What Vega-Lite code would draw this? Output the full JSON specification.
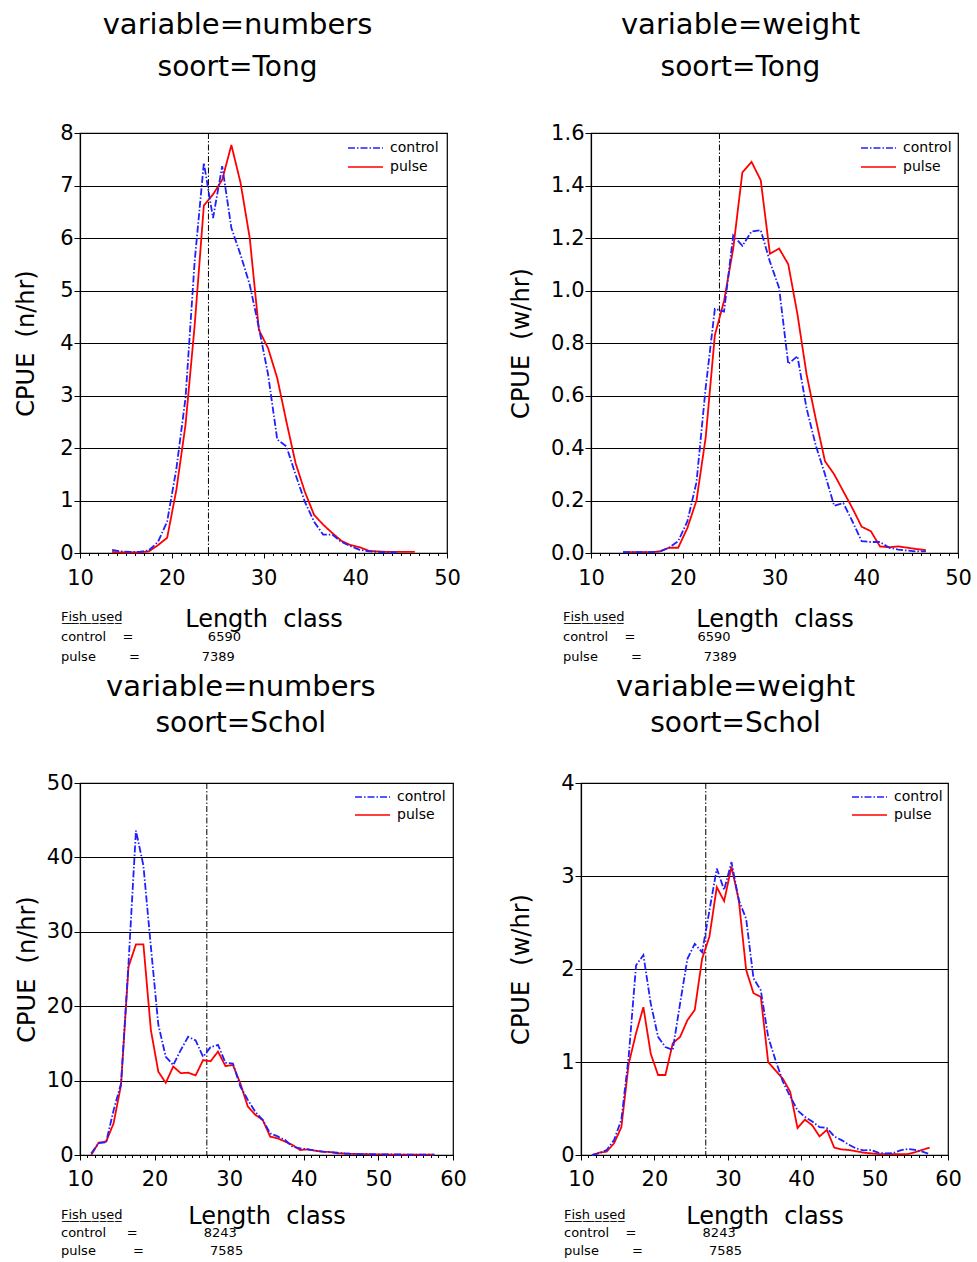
{
  "$schema": "https://vega.github.io/schema/vega-lite/v6.json",
  "background": "white",
  "padding": {"left": 14, "top": 11, "right": 0, "bottom": 0},
  "config": {
    "font": "DejaVu Sans",
    "view": {"stroke": "black", "strokeWidth": 1.2},
    "title": {"font": "DejaVu Sans", "fontSize": 29, "fontWeight": "normal", "color": "black", "subtitleFont": "DejaVu Sans", "subtitleFontSize": 28, "subtitleColor": "black", "offset": 39, "subtitlePadding": 14, "anchor": "middle", "frame": "bounds"},
    "axis": {"domainColor": "black", "domainWidth": 1.2, "tickColor": "black", "labelColor": "black", "titleColor": "black", "labelFont": "DejaVu Sans", "titleFont": "DejaVu Sans", "labelFontSize": 21, "titleFontSize": 24, "titleFontWeight": "normal", "gridColor": "black", "gridOpacity": 1, "gridWidth": 1},
    "axisX": {"grid": false, "tickSize": 5, "labelPadding": 9, "titlePadding": 19, "labelFlush": false},
    "axisY": {"grid": true, "tickSize": 6, "labelPadding": 1, "titlePadding": 15},
    "legend": {"title": null, "labelFont": "DejaVu Sans", "labelFontSize": 14, "labelColor": "black", "symbolType": "M-1.75,0H1.75", "symbolSize": 400, "symbolStrokeWidth": 1.6, "rowPadding": 1, "labelOffset": 13.5, "padding": 0}
  },
  "datasets": {
    "tl": [
      {"length":13.5,"series":"pulse","cpue":0.02},{"length":14.5,"series":"pulse","cpue":0.01},{"length":15.5,"series":"pulse","cpue":0.01},{"length":16.5,"series":"pulse","cpue":0.01},{"length":17.5,"series":"pulse","cpue":0.03},{"length":18.5,"series":"pulse","cpue":0.15},{"length":19.5,"series":"pulse","cpue":0.29},{"length":20.5,"series":"pulse","cpue":1.2},{"length":21.5,"series":"pulse","cpue":2.44},{"length":22.5,"series":"pulse","cpue":4.34},{"length":23.5,"series":"pulse","cpue":6.62},{"length":24.5,"series":"pulse","cpue":6.83},{"length":25.5,"series":"pulse","cpue":7.11},{"length":26.5,"series":"pulse","cpue":7.77},{"length":27.5,"series":"pulse","cpue":7.05},{"length":28.5,"series":"pulse","cpue":6.0},{"length":29.5,"series":"pulse","cpue":4.25},{"length":30.5,"series":"pulse","cpue":3.9},{"length":31.5,"series":"pulse","cpue":3.33},{"length":32.5,"series":"pulse","cpue":2.5},{"length":33.5,"series":"pulse","cpue":1.71},{"length":34.5,"series":"pulse","cpue":1.17},{"length":35.5,"series":"pulse","cpue":0.73},{"length":36.5,"series":"pulse","cpue":0.54},{"length":37.5,"series":"pulse","cpue":0.38},{"length":38.5,"series":"pulse","cpue":0.23},{"length":39.5,"series":"pulse","cpue":0.15},{"length":40.5,"series":"pulse","cpue":0.11},{"length":41.5,"series":"pulse","cpue":0.04},{"length":42.5,"series":"pulse","cpue":0.03},{"length":43.5,"series":"pulse","cpue":0.02},{"length":44.5,"series":"pulse","cpue":0.02},{"length":45.5,"series":"pulse","cpue":0.02},{"length":46.5,"series":"pulse","cpue":0.02},
      {"length":13.5,"series":"control","cpue":0.06},{"length":14.5,"series":"control","cpue":0.03},{"length":15.5,"series":"control","cpue":0.02},{"length":16.5,"series":"control","cpue":0.02},{"length":17.5,"series":"control","cpue":0.05},{"length":18.5,"series":"control","cpue":0.21},{"length":19.5,"series":"control","cpue":0.6},{"length":20.5,"series":"control","cpue":1.6},{"length":21.5,"series":"control","cpue":2.95},{"length":22.5,"series":"control","cpue":5.56},{"length":23.5,"series":"control","cpue":7.43},{"length":24.5,"series":"control","cpue":6.38},{"length":25.5,"series":"control","cpue":7.37},{"length":26.5,"series":"control","cpue":6.19},{"length":27.5,"series":"control","cpue":5.68},{"length":28.5,"series":"control","cpue":5.11},{"length":29.5,"series":"control","cpue":4.29},{"length":30.5,"series":"control","cpue":3.4},{"length":31.5,"series":"control","cpue":2.16},{"length":32.5,"series":"control","cpue":2.03},{"length":33.5,"series":"control","cpue":1.49},{"length":34.5,"series":"control","cpue":0.98},{"length":35.5,"series":"control","cpue":0.6},{"length":36.5,"series":"control","cpue":0.35},{"length":37.5,"series":"control","cpue":0.35},{"length":38.5,"series":"control","cpue":0.21},{"length":39.5,"series":"control","cpue":0.13},{"length":40.5,"series":"control","cpue":0.06},{"length":41.5,"series":"control","cpue":0.03},{"length":42.5,"series":"control","cpue":0.02},{"length":43.5,"series":"control","cpue":0.01},{"length":44.5,"series":"control","cpue":0.01}
    ],
    "tr": [
      {"length":13.5,"series":"pulse","cpue":0.003},{"length":14.5,"series":"pulse","cpue":0.003},{"length":15.5,"series":"pulse","cpue":0.003},{"length":16.5,"series":"pulse","cpue":0.003},{"length":17.5,"series":"pulse","cpue":0.006},{"length":18.5,"series":"pulse","cpue":0.02},{"length":19.5,"series":"pulse","cpue":0.02},{"length":20.5,"series":"pulse","cpue":0.095},{"length":21.5,"series":"pulse","cpue":0.2},{"length":22.5,"series":"pulse","cpue":0.44},{"length":23.5,"series":"pulse","cpue":0.83},{"length":24.5,"series":"pulse","cpue":0.96},{"length":25.5,"series":"pulse","cpue":1.16},{"length":26.5,"series":"pulse","cpue":1.45},{"length":27.5,"series":"pulse","cpue":1.49},{"length":28.5,"series":"pulse","cpue":1.42},{"length":29.5,"series":"pulse","cpue":1.14},{"length":30.5,"series":"pulse","cpue":1.16},{"length":31.5,"series":"pulse","cpue":1.1},{"length":32.5,"series":"pulse","cpue":0.91},{"length":33.5,"series":"pulse","cpue":0.68},{"length":34.5,"series":"pulse","cpue":0.51},{"length":35.5,"series":"pulse","cpue":0.35},{"length":36.5,"series":"pulse","cpue":0.3},{"length":37.5,"series":"pulse","cpue":0.235},{"length":38.5,"series":"pulse","cpue":0.17},{"length":39.5,"series":"pulse","cpue":0.1},{"length":40.5,"series":"pulse","cpue":0.083},{"length":41.5,"series":"pulse","cpue":0.025},{"length":42.5,"series":"pulse","cpue":0.022},{"length":43.5,"series":"pulse","cpue":0.025},{"length":44.5,"series":"pulse","cpue":0.02},{"length":45.5,"series":"pulse","cpue":0.015},{"length":46.5,"series":"pulse","cpue":0.011},
      {"length":13.5,"series":"control","cpue":0.003},{"length":14.5,"series":"control","cpue":0.003},{"length":15.5,"series":"control","cpue":0.003},{"length":16.5,"series":"control","cpue":0.003},{"length":17.5,"series":"control","cpue":0.006},{"length":18.5,"series":"control","cpue":0.02},{"length":19.5,"series":"control","cpue":0.045},{"length":20.5,"series":"control","cpue":0.12},{"length":21.5,"series":"control","cpue":0.27},{"length":22.5,"series":"control","cpue":0.63},{"length":23.5,"series":"control","cpue":0.93},{"length":24.5,"series":"control","cpue":0.92},{"length":25.5,"series":"control","cpue":1.21},{"length":26.5,"series":"control","cpue":1.17},{"length":27.5,"series":"control","cpue":1.225},{"length":28.5,"series":"control","cpue":1.23},{"length":29.5,"series":"control","cpue":1.11},{"length":30.5,"series":"control","cpue":1.01},{"length":31.5,"series":"control","cpue":0.72},{"length":32.5,"series":"control","cpue":0.75},{"length":33.5,"series":"control","cpue":0.55},{"length":34.5,"series":"control","cpue":0.41},{"length":35.5,"series":"control","cpue":0.3},{"length":36.5,"series":"control","cpue":0.18},{"length":37.5,"series":"control","cpue":0.19},{"length":38.5,"series":"control","cpue":0.12},{"length":39.5,"series":"control","cpue":0.045},{"length":40.5,"series":"control","cpue":0.042},{"length":41.5,"series":"control","cpue":0.042},{"length":42.5,"series":"control","cpue":0.02},{"length":43.5,"series":"control","cpue":0.013},{"length":44.5,"series":"control","cpue":0.009},{"length":45.5,"series":"control","cpue":0.006},{"length":46.5,"series":"control","cpue":0.006}
    ],
    "bl": [
      {"length":11.5,"series":"pulse","cpue":0},{"length":12.5,"series":"pulse","cpue":1.66},{"length":13.5,"series":"pulse","cpue":1.8},{"length":14.5,"series":"pulse","cpue":4.25},{"length":15.5,"series":"pulse","cpue":9.4},{"length":16.5,"series":"pulse","cpue":25.3},{"length":17.5,"series":"pulse","cpue":28.3},{"length":18.5,"series":"pulse","cpue":28.3},{"length":19.5,"series":"pulse","cpue":16.8},{"length":20.5,"series":"pulse","cpue":11.2},{"length":21.5,"series":"pulse","cpue":9.7},{"length":22.5,"series":"pulse","cpue":11.9},{"length":23.5,"series":"pulse","cpue":11.0},{"length":24.5,"series":"pulse","cpue":11.06},{"length":25.5,"series":"pulse","cpue":10.7},{"length":26.5,"series":"pulse","cpue":12.76},{"length":27.5,"series":"pulse","cpue":12.6},{"length":28.5,"series":"pulse","cpue":13.9},{"length":29.5,"series":"pulse","cpue":11.95},{"length":30.5,"series":"pulse","cpue":12.1},{"length":31.5,"series":"pulse","cpue":9.6},{"length":32.5,"series":"pulse","cpue":6.5},{"length":33.5,"series":"pulse","cpue":5.4},{"length":34.5,"series":"pulse","cpue":4.7},{"length":35.5,"series":"pulse","cpue":2.46},{"length":36.5,"series":"pulse","cpue":2.24},{"length":37.5,"series":"pulse","cpue":1.8},{"length":38.5,"series":"pulse","cpue":1.34},{"length":39.5,"series":"pulse","cpue":0.67},{"length":40.5,"series":"pulse","cpue":0.76},{"length":41.5,"series":"pulse","cpue":0.58},{"length":42.5,"series":"pulse","cpue":0.45},{"length":43.5,"series":"pulse","cpue":0.4},{"length":44.5,"series":"pulse","cpue":0.22},{"length":45.5,"series":"pulse","cpue":0.2},{"length":46.5,"series":"pulse","cpue":0.15},{"length":47.5,"series":"pulse","cpue":0.12},{"length":48.5,"series":"pulse","cpue":0.1},{"length":49.5,"series":"pulse","cpue":0.08},{"length":50.5,"series":"pulse","cpue":0.08},{"length":51.5,"series":"pulse","cpue":0.06},{"length":52.5,"series":"pulse","cpue":0.06},{"length":53.5,"series":"pulse","cpue":0.05},{"length":54.5,"series":"pulse","cpue":0.05},{"length":55.5,"series":"pulse","cpue":0.05},{"length":56.5,"series":"pulse","cpue":0.05},{"length":57.5,"series":"pulse","cpue":0.05},
      {"length":11.5,"series":"control","cpue":0.2},{"length":12.5,"series":"control","cpue":1.6},{"length":13.5,"series":"control","cpue":1.7},{"length":14.5,"series":"control","cpue":6.0},{"length":15.5,"series":"control","cpue":9.6},{"length":16.5,"series":"control","cpue":25.7},{"length":17.5,"series":"control","cpue":43.6},{"length":18.5,"series":"control","cpue":38.9},{"length":19.5,"series":"control","cpue":28.0},{"length":20.5,"series":"control","cpue":17.5},{"length":21.5,"series":"control","cpue":13.2},{"length":22.5,"series":"control","cpue":12.1},{"length":23.5,"series":"control","cpue":14.1},{"length":24.5,"series":"control","cpue":15.9},{"length":25.5,"series":"control","cpue":15.4},{"length":26.5,"series":"control","cpue":13.2},{"length":27.5,"series":"control","cpue":14.5},{"length":28.5,"series":"control","cpue":14.8},{"length":29.5,"series":"control","cpue":12.4},{"length":30.5,"series":"control","cpue":12.3},{"length":31.5,"series":"control","cpue":9.2},{"length":32.5,"series":"control","cpue":7.4},{"length":33.5,"series":"control","cpue":5.8},{"length":34.5,"series":"control","cpue":4.7},{"length":35.5,"series":"control","cpue":2.9},{"length":36.5,"series":"control","cpue":2.5},{"length":37.5,"series":"control","cpue":2.0},{"length":38.5,"series":"control","cpue":1.1},{"length":39.5,"series":"control","cpue":0.9},{"length":40.5,"series":"control","cpue":0.76},{"length":41.5,"series":"control","cpue":0.6},{"length":42.5,"series":"control","cpue":0.45},{"length":43.5,"series":"control","cpue":0.4},{"length":44.5,"series":"control","cpue":0.3},{"length":45.5,"series":"control","cpue":0.2},{"length":46.5,"series":"control","cpue":0.15},{"length":47.5,"series":"control","cpue":0.12},{"length":48.5,"series":"control","cpue":0.1},{"length":49.5,"series":"control","cpue":0.1},{"length":50.5,"series":"control","cpue":0.08},{"length":51.5,"series":"control","cpue":0.08},{"length":52.5,"series":"control","cpue":0.07},{"length":53.5,"series":"control","cpue":0.06},{"length":54.5,"series":"control","cpue":0.06},{"length":55.5,"series":"control","cpue":0.06},{"length":56.5,"series":"control","cpue":0.06},{"length":57.5,"series":"control","cpue":0.06}
    ],
    "br": [
      {"length":11.5,"series":"pulse","cpue":0},{"length":12.5,"series":"pulse","cpue":0.025},{"length":13.5,"series":"pulse","cpue":0.036},{"length":14.5,"series":"pulse","cpue":0.125},{"length":15.5,"series":"pulse","cpue":0.3},{"length":16.5,"series":"pulse","cpue":0.98},{"length":17.5,"series":"pulse","cpue":1.31},{"length":18.5,"series":"pulse","cpue":1.59},{"length":19.5,"series":"pulse","cpue":1.09},{"length":20.5,"series":"pulse","cpue":0.86},{"length":21.5,"series":"pulse","cpue":0.86},{"length":22.5,"series":"pulse","cpue":1.2},{"length":23.5,"series":"pulse","cpue":1.27},{"length":24.5,"series":"pulse","cpue":1.45},{"length":25.5,"series":"pulse","cpue":1.56},{"length":26.5,"series":"pulse","cpue":2.11},{"length":27.5,"series":"pulse","cpue":2.35},{"length":28.5,"series":"pulse","cpue":2.88},{"length":29.5,"series":"pulse","cpue":2.73},{"length":30.5,"series":"pulse","cpue":3.1},{"length":31.5,"series":"pulse","cpue":2.74},{"length":32.5,"series":"pulse","cpue":1.99},{"length":33.5,"series":"pulse","cpue":1.74},{"length":34.5,"series":"pulse","cpue":1.7},{"length":35.5,"series":"pulse","cpue":1.0},{"length":36.5,"series":"pulse","cpue":0.91},{"length":37.5,"series":"pulse","cpue":0.82},{"length":38.5,"series":"pulse","cpue":0.68},{"length":39.5,"series":"pulse","cpue":0.29},{"length":40.5,"series":"pulse","cpue":0.38},{"length":41.5,"series":"pulse","cpue":0.32},{"length":42.5,"series":"pulse","cpue":0.2},{"length":43.5,"series":"pulse","cpue":0.27},{"length":44.5,"series":"pulse","cpue":0.08},{"length":45.5,"series":"pulse","cpue":0.06},{"length":46.5,"series":"pulse","cpue":0.054},{"length":47.5,"series":"pulse","cpue":0.04},{"length":48.5,"series":"pulse","cpue":0.025},{"length":49.5,"series":"pulse","cpue":0.018},{"length":50.5,"series":"pulse","cpue":0.01},{"length":51.5,"series":"pulse","cpue":0.01},{"length":52.5,"series":"pulse","cpue":0.01},{"length":53.5,"series":"pulse","cpue":0.01},{"length":54.5,"series":"pulse","cpue":0.01},{"length":55.5,"series":"pulse","cpue":0.03},{"length":56.5,"series":"pulse","cpue":0.055},{"length":57.5,"series":"pulse","cpue":0.08},
      {"length":11.5,"series":"control","cpue":0},{"length":12.5,"series":"control","cpue":0.02},{"length":13.5,"series":"control","cpue":0.054},{"length":14.5,"series":"control","cpue":0.16},{"length":15.5,"series":"control","cpue":0.38},{"length":16.5,"series":"control","cpue":1.06},{"length":17.5,"series":"control","cpue":2.04},{"length":18.5,"series":"control","cpue":2.15},{"length":19.5,"series":"control","cpue":1.63},{"length":20.5,"series":"control","cpue":1.27},{"length":21.5,"series":"control","cpue":1.16},{"length":22.5,"series":"control","cpue":1.13},{"length":23.5,"series":"control","cpue":1.63},{"length":24.5,"series":"control","cpue":2.11},{"length":25.5,"series":"control","cpue":2.27},{"length":26.5,"series":"control","cpue":2.18},{"length":27.5,"series":"control","cpue":2.63},{"length":28.5,"series":"control","cpue":3.08},{"length":29.5,"series":"control","cpue":2.85},{"length":30.5,"series":"control","cpue":3.15},{"length":31.5,"series":"control","cpue":2.74},{"length":32.5,"series":"control","cpue":2.54},{"length":33.5,"series":"control","cpue":1.9},{"length":34.5,"series":"control","cpue":1.77},{"length":35.5,"series":"control","cpue":1.27},{"length":36.5,"series":"control","cpue":1.02},{"length":37.5,"series":"control","cpue":0.79},{"length":38.5,"series":"control","cpue":0.63},{"length":39.5,"series":"control","cpue":0.48},{"length":40.5,"series":"control","cpue":0.41},{"length":41.5,"series":"control","cpue":0.36},{"length":42.5,"series":"control","cpue":0.3},{"length":43.5,"series":"control","cpue":0.29},{"length":44.5,"series":"control","cpue":0.2},{"length":45.5,"series":"control","cpue":0.16},{"length":46.5,"series":"control","cpue":0.11},{"length":47.5,"series":"control","cpue":0.07},{"length":48.5,"series":"control","cpue":0.05},{"length":49.5,"series":"control","cpue":0.054},{"length":50.5,"series":"control","cpue":0.025},{"length":51.5,"series":"control","cpue":0.018},{"length":52.5,"series":"control","cpue":0.02},{"length":53.5,"series":"control","cpue":0.05},{"length":54.5,"series":"control","cpue":0.065},{"length":55.5,"series":"control","cpue":0.054},{"length":56.5,"series":"control","cpue":0.036},{"length":57.5,"series":"control","cpue":0.01}
    ]
  },
  "columns": 2,
  "align": "none",
  "spacing": {"row": 8, "column": 42},
  "resolve": {"scale": {"color": "independent", "strokeDash": "independent"}},
  "concat": [
    {
      "title": {"text": "variable=numbers", "subtitle": "soort=Tong"},
      "resolve": {"scale": {"color": "independent", "strokeDash": "independent"}},
      "vconcat": [{
        "width": 367, "height": 420,
        "title": {"text": ["F\u0332i\u0332s\u0332h\u0332\u00a0\u0332u\u0332s\u0332e\u0332d\u0332", "control\u00a0\u00a0\u00a0\u00a0=\u00a0\u00a0\u00a0\u00a0\u00a0\u00a0\u00a0\u00a0\u00a0\u00a0\u00a0\u00a0\u00a0\u00a0\u00a0\u00a0\u00a0\u00a06590", "pulse\u00a0\u00a0\u00a0\u00a0\u00a0\u00a0\u00a0\u00a0=\u00a0\u00a0\u00a0\u00a0\u00a0\u00a0\u00a0\u00a0\u00a0\u00a0\u00a0\u00a0\u00a0\u00a0\u00a07389"], "orient": "bottom", "anchor": "start", "frame": "group", "fontSize": 13, "lineHeight": 20, "dx": -19, "offset": -20, "subtitle": null},
        "data": {"name": "tl"},
        "layer": [
          {"data": {"values": [{"mls": 24}]}, "mark": {"type": "rule", "color": "black", "strokeWidth": 1, "strokeDash": [6, 2, 1.5, 2]},
           "encoding": {"x": {"field": "mls", "type": "quantitative", "axis": {"orient": "bottom", "values": [11,12,13,14,15,16,17,18,19,21,22,23,24,25,26,27,28,29,31,32,33,34,35,36,37,38,39,41,42,43,44,45,46,47,48,49], "labels": false, "domain": false, "grid": false, "tickSize": 2.5, "title": null}}}},
          {"mark": {"type": "line", "strokeWidth": 1.8},
           "encoding": {
             "x": {"field": "length", "type": "quantitative", "scale": {"domain": [10, 50], "nice": false, "zero": false}, "axis": {"orient": "bottom", "values": [10,20,30,40,50], "title": "Length\u00a0\u00a0class"}},
             "y": {"field": "cpue", "type": "quantitative", "scale": {"domain": [0, 8], "nice": false}, "axis": {"values": [0,1,2,3,4,5,6,7,8], "title": "CPUE\u00a0\u00a0(n/hr)", "titlePadding": 21}},
             "color": {"field": "series", "type": "nominal", "scale": {"domain": ["control", "pulse"], "range": ["#2020ff", "#ff0000"]}, "legend": {"orient": "none", "legendX": 274.5, "legendY": 4}},
             "strokeDash": {"field": "series", "type": "nominal", "scale": {"domain": ["control", "pulse"], "range": [[7, 2, 1.5, 2], [1, 0]]}, "legend": {"orient": "none", "legendX": 274.5, "legendY": 4}}
           }}
        ],
        "resolve": {"axis": {"x": "independent"}}
      }]
    },
    {
      "title": {"text": "variable=weight", "subtitle": "soort=Tong"},
      "resolve": {"scale": {"color": "independent", "strokeDash": "independent"}},
      "vconcat": [{
        "width": 367, "height": 420,
        "title": {"text": ["F\u0332i\u0332s\u0332h\u0332\u00a0\u0332u\u0332s\u0332e\u0332d\u0332", "control\u00a0\u00a0\u00a0\u00a0=\u00a0\u00a0\u00a0\u00a0\u00a0\u00a0\u00a0\u00a0\u00a0\u00a0\u00a0\u00a0\u00a0\u00a0\u00a06590", "pulse\u00a0\u00a0\u00a0\u00a0\u00a0\u00a0\u00a0\u00a0=\u00a0\u00a0\u00a0\u00a0\u00a0\u00a0\u00a0\u00a0\u00a0\u00a0\u00a0\u00a0\u00a0\u00a0\u00a07389"], "orient": "bottom", "anchor": "start", "frame": "group", "fontSize": 13, "lineHeight": 20, "dx": -28, "offset": -20, "subtitle": null},
        "data": {"name": "tr"},
        "layer": [
          {"data": {"values": [{"mls": 24}]}, "mark": {"type": "rule", "color": "black", "strokeWidth": 1, "strokeDash": [6, 2, 1.5, 2]},
           "encoding": {"x": {"field": "mls", "type": "quantitative", "axis": {"orient": "bottom", "values": [11,12,13,14,15,16,17,18,19,21,22,23,24,25,26,27,28,29,31,32,33,34,35,36,37,38,39,41,42,43,44,45,46,47,48,49], "labels": false, "domain": false, "grid": false, "tickSize": 2.5, "title": null}}}},
          {"mark": {"type": "line", "strokeWidth": 1.8},
           "encoding": {
             "x": {"field": "length", "type": "quantitative", "scale": {"domain": [10, 50], "nice": false, "zero": false}, "axis": {"orient": "bottom", "values": [10,20,30,40,50], "title": "Length\u00a0\u00a0class"}},
             "y": {"field": "cpue", "type": "quantitative", "scale": {"domain": [0, 1.6], "nice": false}, "axis": {"values": [0,0.2,0.4,0.6,0.8,1.0,1.2,1.4,1.6], "format": ".1f", "title": "CPUE\u00a0\u00a0(w/hr)", "titlePadding": 17}},
             "color": {"field": "series", "type": "nominal", "scale": {"domain": ["control", "pulse"], "range": ["#2020ff", "#ff0000"]}, "legend": {"orient": "none", "legendX": 276.5, "legendY": 4}},
             "strokeDash": {"field": "series", "type": "nominal", "scale": {"domain": ["control", "pulse"], "range": [[7, 2, 1.5, 2], [1, 0]]}, "legend": {"orient": "none", "legendX": 276.5, "legendY": 4}}
           }}
        ],
        "resolve": {"axis": {"x": "independent"}}
      }]
    },
    {
      "title": {"text": "variable=numbers", "subtitle": "soort=Schol", "offset": 33, "subtitlePadding": 8},
      "resolve": {"scale": {"color": "independent", "strokeDash": "independent"}},
      "vconcat": [{
        "width": 373, "height": 372,
        "title": {"text": ["F\u0332i\u0332s\u0332h\u0332\u00a0\u0332u\u0332s\u0332e\u0332d\u0332", "control\u00a0\u00a0\u00a0\u00a0\u00a0=\u00a0\u00a0\u00a0\u00a0\u00a0\u00a0\u00a0\u00a0\u00a0\u00a0\u00a0\u00a0\u00a0\u00a0\u00a0\u00a08243", "pulse\u00a0\u00a0\u00a0\u00a0\u00a0\u00a0\u00a0\u00a0\u00a0=\u00a0\u00a0\u00a0\u00a0\u00a0\u00a0\u00a0\u00a0\u00a0\u00a0\u00a0\u00a0\u00a0\u00a0\u00a0\u00a07585"], "orient": "bottom", "anchor": "start", "frame": "group", "fontSize": 13, "lineHeight": 18, "dx": -19, "offset": -19, "subtitle": null},
        "data": {"name": "bl"},
        "layer": [
          {"data": {"values": [{"mls": 27}]}, "mark": {"type": "rule", "color": "black", "strokeWidth": 1, "strokeDash": [6, 2, 1.5, 2]},
           "encoding": {"x": {"field": "mls", "type": "quantitative", "axis": {"orient": "bottom", "values": [11,12,13,14,15,16,17,18,19,21,22,23,24,25,26,27,28,29,31,32,33,34,35,36,37,38,39,41,42,43,44,45,46,47,48,49,51,52,53,54,55,56,57,58,59], "labels": false, "domain": false, "grid": false, "tickSize": 2.5, "title": null}}}},
          {"mark": {"type": "line", "strokeWidth": 1.8},
           "encoding": {
             "x": {"field": "length", "type": "quantitative", "scale": {"domain": [10, 60], "nice": false, "zero": false}, "axis": {"orient": "bottom", "values": [10,20,30,40,50,60], "title": "Length\u00a0\u00a0class", "titlePadding": 15, "labelPadding": 8}},
             "y": {"field": "cpue", "type": "quantitative", "scale": {"domain": [0, 50], "nice": false}, "axis": {"values": [0,10,20,30,40,50], "title": "CPUE\u00a0\u00a0(n/hr)", "titlePadding": 7}},
             "color": {"field": "series", "type": "nominal", "scale": {"domain": ["control", "pulse"], "range": ["#2020ff", "#ff0000"]}, "legend": {"orient": "none", "legendX": 281.5, "legendY": 3, "rowPadding": -1}},
             "strokeDash": {"field": "series", "type": "nominal", "scale": {"domain": ["control", "pulse"], "range": [[7, 2, 1.5, 2], [1, 0]]}, "legend": {"orient": "none", "legendX": 281.5, "legendY": 3, "rowPadding": -1}}
           }}
        ],
        "resolve": {"axis": {"x": "independent"}}
      }]
    },
    {
      "title": {"text": "variable=weight", "subtitle": "soort=Schol", "offset": 33, "subtitlePadding": 8},
      "resolve": {"scale": {"color": "independent", "strokeDash": "independent"}},
      "vconcat": [{
        "width": 367, "height": 372,
        "title": {"text": ["F\u0332i\u0332s\u0332h\u0332\u00a0\u0332u\u0332s\u0332e\u0332d\u0332", "control\u00a0\u00a0\u00a0\u00a0=\u00a0\u00a0\u00a0\u00a0\u00a0\u00a0\u00a0\u00a0\u00a0\u00a0\u00a0\u00a0\u00a0\u00a0\u00a0\u00a08243", "pulse\u00a0\u00a0\u00a0\u00a0\u00a0\u00a0\u00a0\u00a0=\u00a0\u00a0\u00a0\u00a0\u00a0\u00a0\u00a0\u00a0\u00a0\u00a0\u00a0\u00a0\u00a0\u00a0\u00a0\u00a07585"], "orient": "bottom", "anchor": "start", "frame": "group", "fontSize": 13, "lineHeight": 18, "dx": -17, "offset": -19, "subtitle": null},
        "data": {"name": "br"},
        "layer": [
          {"data": {"values": [{"mls": 27}]}, "mark": {"type": "rule", "color": "black", "strokeWidth": 1, "strokeDash": [6, 2, 1.5, 2]},
           "encoding": {"x": {"field": "mls", "type": "quantitative", "axis": {"orient": "bottom", "values": [11,12,13,14,15,16,17,18,19,21,22,23,24,25,26,27,28,29,31,32,33,34,35,36,37,38,39,41,42,43,44,45,46,47,48,49,51,52,53,54,55,56,57,58,59], "labels": false, "domain": false, "grid": false, "tickSize": 2.5, "title": null}}}},
          {"mark": {"type": "line", "strokeWidth": 1.8},
           "encoding": {
             "x": {"field": "length", "type": "quantitative", "scale": {"domain": [10, 60], "nice": false, "zero": false}, "axis": {"orient": "bottom", "values": [10,20,30,40,50,60], "title": "Length\u00a0\u00a0class", "titlePadding": 15, "labelPadding": 8}},
             "y": {"field": "cpue", "type": "quantitative", "scale": {"domain": [0, 4], "nice": false}, "axis": {"values": [0,1,2,3,4], "title": "CPUE\u00a0\u00a0(w/hr)", "titlePadding": 27}},
             "color": {"field": "series", "type": "nominal", "scale": {"domain": ["control", "pulse"], "range": ["#2020ff", "#ff0000"]}, "legend": {"orient": "none", "legendX": 277.5, "legendY": 3, "rowPadding": -1}},
             "strokeDash": {"field": "series", "type": "nominal", "scale": {"domain": ["control", "pulse"], "range": [[7, 2, 1.5, 2], [1, 0]]}, "legend": {"orient": "none", "legendX": 277.5, "legendY": 3, "rowPadding": -1}}
           }}
        ],
        "resolve": {"axis": {"x": "independent"}}
      }]
    }
  ]
}
